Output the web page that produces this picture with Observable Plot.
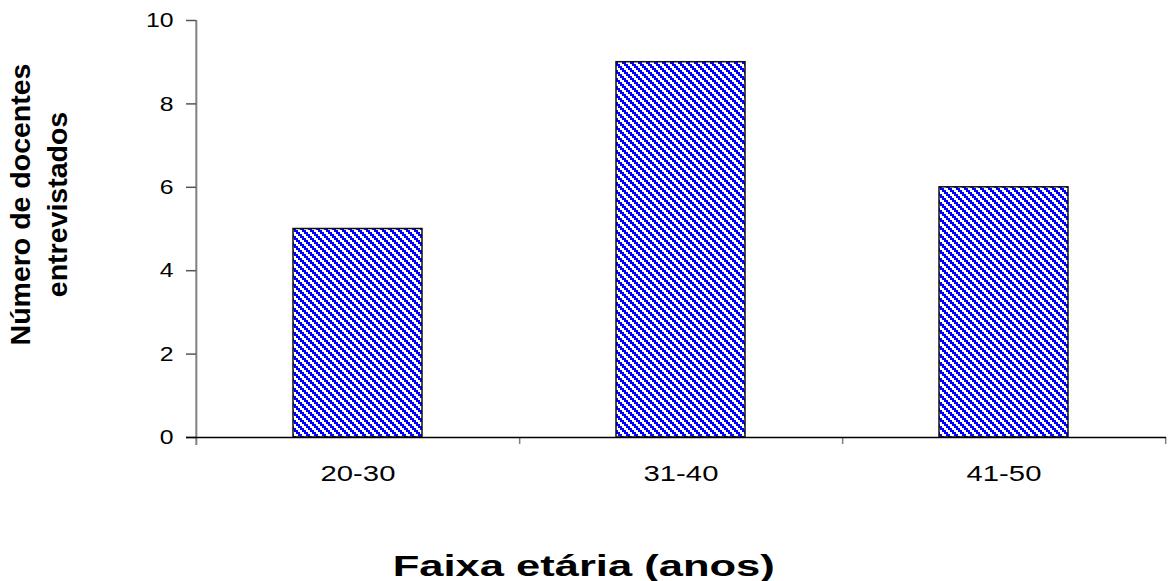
<!DOCTYPE html>
<html>
<head>
<meta charset="utf-8">
<script src="https://cdn.jsdelivr.net/npm/d3@7"></script>
<script src="https://cdn.jsdelivr.net/npm/@observablehq/plot@0.6"></script>
<style>
  body { margin: 0; background: #fff; }
  #chart { width: 1168px; }
  .x-title {
    width: 1168px; height: 36px; text-align: center; color: #000;
    font: bold 30px "Liberation Sans", Arial, sans-serif; line-height: 42px;
  }
  .x-title span { display: inline-block; transform: scaleX(1.45); transform-origin: 50% 50%; }
</style>
</head>
<body>
<div id="chart"></div>
<script>
// Age groups of the interviewed teachers and how many fall in each
const ageGroups = ["20-30", "31-40", "41-50"];
const teacherCounts = [5, 9, 6];
const yTicks = [0, 2, 4, 6, 8, 10];
const xTitle = "Faixa etária (anos)";
const yTitle = "Número de docentes\nentrevistados";

const rows = ageGroups.map((g, i) => ({group: g, count: teacherCounts[i]}));

const W = 1168, H = 545;
const mL = 196, mR = 2, mT = 20, mB = 108;
const step = (W - mL - mR) / ageGroups.length;   // width of one category slot

// Blue/white stepped diagonal fill used for the bars
function hatchDefs() {
  const ns = "http://www.w3.org/2000/svg";
  const defs = document.createElementNS(ns, "defs");
  const p = document.createElementNS(ns, "pattern");
  p.setAttribute("id", "hatch");
  p.setAttribute("patternUnits", "userSpaceOnUse");
  p.setAttribute("width", 8);
  p.setAttribute("height", 8);
  const bg = document.createElementNS(ns, "rect");
  bg.setAttribute("width", 8); bg.setAttribute("height", 8); bg.setAttribute("fill", "#fff");
  const stripes = document.createElementNS(ns, "path");
  stripes.setAttribute("d", "M0,0h4v2h-4z M2,2h4v2h-4z M4,4h4v2h-4z M6,6h2v2h-2z M0,6h2v2h-2z");
  stripes.setAttribute("fill", "#0000ff");
  stripes.setAttribute("shape-rendering", "crispEdges");
  p.append(bg, stripes);
  defs.append(p);
  return defs;
}

const chart = Plot.plot({
  width: W, height: H,
  marginLeft: mL, marginRight: mR, marginTop: mT, marginBottom: mB,
  style: {fontFamily: '"Liberation Sans", Arial, sans-serif', fontSize: "21px", background: "#fff", color: "#000", overflow: "visible"},
  x: {type: "band", domain: ageGroups, paddingInner: 0.6, paddingOuter: 0.3, axis: null},
  y: {domain: [0, 10], axis: null},
  marks: [
    hatchDefs,
    Plot.barY(rows, {x: "group", y: "count", fill: "url(#hatch)", stroke: "#111", strokeWidth: 1.5}),
    // vertical axis line, running slightly below the baseline
    Plot.ruleX([ageGroups[0]], {x: d => d, dx: -step / 2, insetBottom: -8, stroke: "#808080", strokeWidth: 2}),
    // category separators under the baseline
    Plot.ruleX(ageGroups, {x: d => d, y1: () => 0, y2: () => 0, dx: step / 2, insetBottom: -7, stroke: "#808080", strokeWidth: 1.5}),
    Plot.axisY({ticks: yTicks, tickSize: 10, tickPadding: 13, stroke: "#555", strokeWidth: 1.5, fontSize: 21, label: null, tickFormat: d => String(d)}),
    Plot.axisX({tickSize: 0, tickPadding: 28, fontSize: 22, label: null}),
    Plot.ruleY([0], {insetLeft: -10, stroke: "#000", strokeWidth: 1.5}),
    Plot.text([yTitle], {
      text: d => d, frameAnchor: "left", dx: 36 - mL, dy: 204 - (mT + (H - mB - mT) / 2),
      rotate: -90, fontWeight: "bold", fontSize: 28.5, lineHeight: 1.3,
      textAnchor: "middle", lineAnchor: "middle", ariaLabel: "y-axis title"
    })
  ]
});

// widen the lettering horizontally, keeping each label anchored where Plot put it
function widen(selector, sx) {
  d3.select(chart).selectAll(selector).each(function () {
    const t = this.getAttribute("transform") || "";
    this.setAttribute("transform", t.includes("rotate(")
      ? t.replace("rotate(", `scale(${sx},1) rotate(`)
      : `${t} scale(${sx},1)`);
  });
}
widen('g[aria-label="y-axis tick label"] text', 1.18);
widen('g[aria-label="x-axis tick label"] text', 1.33);
widen('g[aria-label="y-axis title"] text', 1.15);

document.getElementById("chart").append(chart);
const title = document.createElement("div");
title.className = "x-title";
const span = document.createElement("span");
span.textContent = xTitle;
title.append(span);
document.getElementById("chart").append(title);
</script>
</body>
</html>
